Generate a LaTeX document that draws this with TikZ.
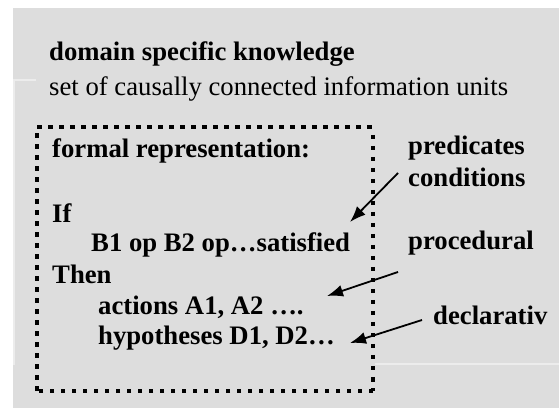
\documentclass[tikz,border=0pt]{standalone}
\usepackage{fontspec}
\setmainfont{Liberation Serif}
\usetikzlibrary{arrows.meta}
\definecolor{bggray}{RGB}{221,221,221}
\definecolor{lightline}{RGB}{236,236,236}
\tikzset{
  txt/.style={anchor=base west, inner sep=0pt, font=\fontsize{26.7}{31}\selectfont},
  btxt/.style={txt, font=\fontsize{26.7}{31}\selectfont\bfseries},
  pointer/.style={line width=1.8pt, -{Latex[length=16pt,width=12pt]}},
  dotbox/.style={line width=4.5pt, dash pattern=on 4.5pt off 6.5pt}
}
\begin{document}
\begin{tikzpicture}[x=1pt,y=1pt]
\useasboundingbox (0,0) rectangle (559,412);
\fill[bggray] (13,4) rectangle (559,404);
\draw[lightline, line width=1.5pt] (13,332) -- (36,332);
\draw[lightline, line width=1.5pt] (14,332) -- (14,47);
\draw[lightline, line width=1.5pt] (375,48) -- (559,48);
% dotted frame
\draw[dotbox] (37,285) -- (373,285);
\draw[dotbox] (373,277) -- (373,21);
\draw[dotbox] (373,21) -- (37,21);
\draw[dotbox] (37,21) -- (37,285);
% texts
\node[btxt] (title) at (49,351) {domain specific knowledge};
\node[txt] (sub) at (49,316) {set of causally connected information units};
\node[btxt] (formal) at (52,254) {formal representation:};
\node[btxt] (if) at (52,189) {If};
\node[btxt] (cond) at (91,160) {B1 op B2 op…satisfied};
\node[btxt] (then) at (52,128) {Then};
\node[btxt] (act) at (98,97) {actions A1, A2 ….};
\node[btxt] (hyp) at (98,67) {hypotheses D1, D2…};
\node[btxt] (pred) at (408,257) {predicates};
\node[btxt] (condl) at (408,225) {conditions};
\node[btxt] (proc) at (408,162) {procedural};
\node[btxt] (decl) at (433,87) {declarativ};
% arrows
\coordinate (a1s) at (398,239);
\coordinate (a1e) at (350,190);
\coordinate (a2s) at (398,140);
\coordinate (a2e) at (327,116);
\coordinate (a3s) at (422,92);
\coordinate (a3e) at (350,69);
\draw[pointer] (a1s) -- (a1e);
\draw[pointer] (a2s) -- (a2e);
\draw[pointer] (a3s) -- (a3e);
\end{tikzpicture}
\end{document}
